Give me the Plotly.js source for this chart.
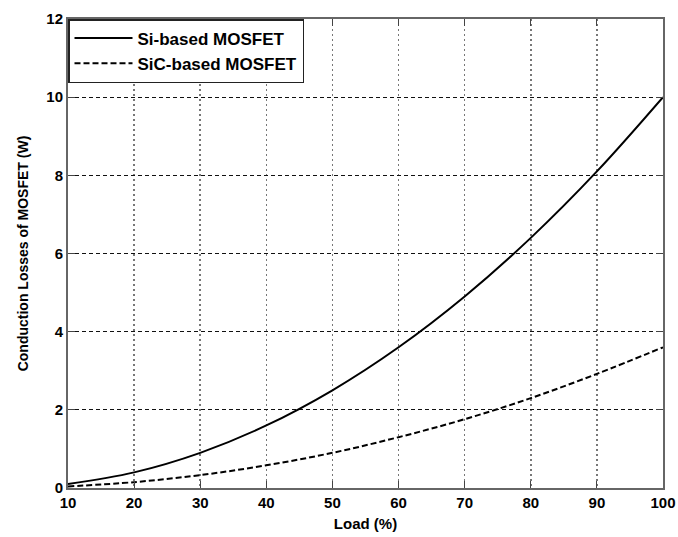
<!DOCTYPE html>
<html>
<head>
<meta charset="utf-8">
<script src="https://cdn.plot.ly/plotly-3.0.1.min.js"></script>
<style>html,body{margin:0;padding:0;background:#fff;}#chart{width:678px;height:537px;}</style>
</head>
<body>
<div id="chart"></div>
<script>
const load = [10, 20, 30, 40, 50, 60, 70, 80, 90, 100];
const siLoss = [0.1, 0.4, 0.9, 1.6, 2.5, 3.6, 4.9, 6.4, 8.1, 10.0];
const sicLoss = [0.04, 0.15, 0.33, 0.58, 0.9, 1.3, 1.76, 2.3, 2.92, 3.6];
const xTicks = [10, 20, 30, 40, 50, 60, 70, 80, 90, 100];
const yTicks = [0, 2, 4, 6, 8, 10, 12];

const fam = 'Liberation Sans, Arial, sans-serif';

const traces = [
  {x: load, y: siLoss, name: 'Si-based MOSFET', mode: 'lines',
   line: {color: '#000', width: 2, shape: 'spline'}},
  {x: load, y: sicLoss, name: 'SiC-based MOSFET', mode: 'lines',
   line: {color: '#000', width: 2, dash: '6px,3px', shape: 'spline'}}
];

const layout = {
  width: 678, height: 537,
  margin: {l: 68, r: 15, t: 19, b: 49},
  paper_bgcolor: '#fff', plot_bgcolor: '#fff',
  font: {family: fam, size: 14, color: '#000', weight: 'bold'},
  showlegend: true,
  legend: {x: 0, y: 1, xanchor: 'left', yanchor: 'top', bgcolor: '#fff',
           bordercolor: '#222', borderwidth: 1.5, itemwidth: 58, tracegroupgap: 0,
           font: {family: fam, size: 17, color: '#000', weight: 'bold'}},
  xaxis: {
    range: [10, 100], tickvals: xTicks, ticktext: xTicks.map(String),
    showgrid: true, gridcolor: '#777', griddash: '2px,3px', gridwidth: 1.5,
    showline: true, linecolor: '#666', linewidth: 2, mirror: 'ticks',
    ticks: 'inside', ticklen: 7, tickcolor: '#444', zeroline: false,
    tickfont: {family: fam, size: 15, color: '#000', weight: 'bold'},
    title: {text: 'Load (%)', standoff: 8, font: {family: fam, size: 15, color: '#000', weight: 'bold'}}
  },
  yaxis: {
    range: [0, 12], tickvals: yTicks, ticktext: yTicks.map(String),
    showgrid: true, gridcolor: '#111', griddash: '4px,3px', gridwidth: 1,
    showline: true, linecolor: '#666', linewidth: 2, mirror: 'ticks',
    ticks: 'inside', ticklen: 7, tickcolor: '#444', zeroline: false,
    tickfont: {family: fam, size: 15, color: '#000', weight: 'bold'},
    title: {text: 'Conduction Losses of MOSFET (W)', standoff: 14, font: {family: fam, size: 14, color: '#000', weight: 'bold'}}
  }
};

Plotly.newPlot('chart', traces, layout, {displayModeBar: false, staticPlot: true});
</script>
</body>
</html>
